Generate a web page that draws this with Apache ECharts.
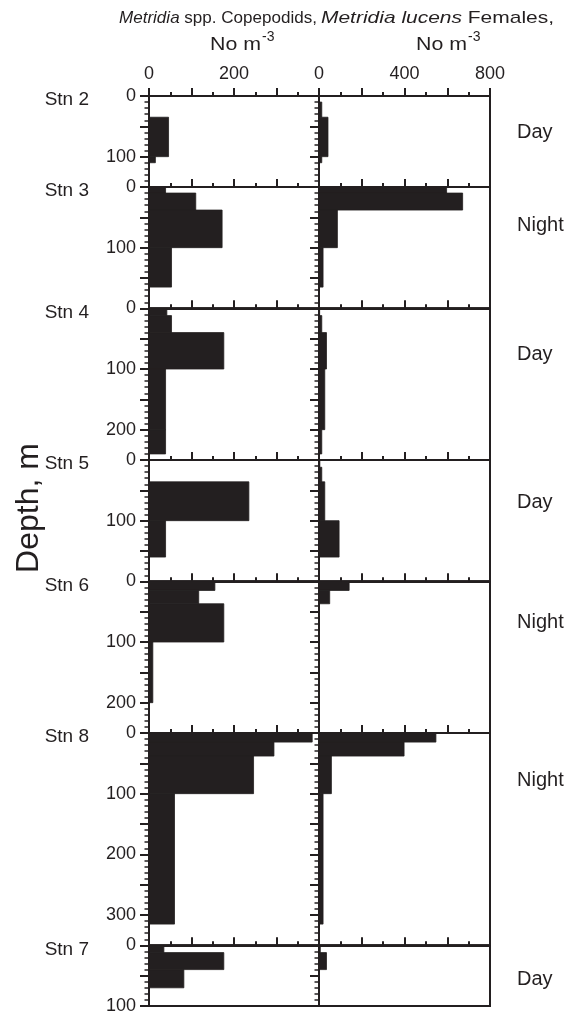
<!DOCTYPE html>
<html>
<head>
<meta charset="utf-8">
<script src="https://cdn.jsdelivr.net/npm/echarts@6/dist/echarts.min.js"></script>
<style>
html,body{margin:0;padding:0;background:#fff;}
#c{width:576px;height:1015px;}
</style>
</head>
<body>
<div id="c"></div>
<script>
// ---------------- DATA ----------------
const stations = ['Stn 2', 'Stn 3', 'Stn 4', 'Stn 5', 'Stn 6', 'Stn 8', 'Stn 7'];
const periods  = ['Day', 'Night', 'Day', 'Day', 'Night', 'Night', 'Day'];
const depthRange = [150, 200, 250, 200, 250, 350, 100];

// layer boundaries (m) and values (No m-3) per station
const layersStn2 = [0, 10, 35, 100, 110];
const copepodidsStn2 = [0, 0, 46, 15];
const femalesStn2 = [0, 13, 42, 13];

const layersStn3 = [0, 10, 38, 100, 165];
const copepodidsStn3 = [39, 110, 172, 53];
const femalesStn3 = [597, 672, 86, 19];

const layersStn4 = [0, 12, 40, 100, 200, 240];
const copepodidsStn4 = [42, 53, 176, 39, 39];
const femalesStn4 = [3, 13, 35, 27, 13];

const layersStn5 = [0, 12, 36, 100, 160];
const copepodidsStn5 = [0, 0, 235, 39];
const femalesStn5 = [4, 13, 27, 94];

const layersStn6 = [0, 15, 37, 100, 200];
const copepodidsStn6 = [155, 117, 176, 9];
const femalesStn6 = [141, 50, 2, 2];

const layersStn8 = [0, 15, 38, 100, 315];
const copepodidsStn8 = [384, 294, 246, 60];
const femalesStn8 = [547, 398, 58, 19];

const layersStn7 = [0, 12, 40, 70];
const copepodidsStn7 = [35, 176, 82];
const femalesStn7 = [6, 35, 0];

const layers = [layersStn2, layersStn3, layersStn4, layersStn5, layersStn6, layersStn8, layersStn7];
const copepodids = [copepodidsStn2, copepodidsStn3, copepodidsStn4, copepodidsStn5, copepodidsStn6, copepodidsStn8, copepodidsStn7];
const females = [femalesStn2, femalesStn3, femalesStn4, femalesStn5, femalesStn6, femalesStn8, femalesStn7];

const copepodidsTickLabels = [0, 200];
const femalesTickLabels = [0, 400, 800];
const depthTickLabels = [0, 100, 200, 300];

// ---------------- LAYOUT ----------------
const COLOR = '#231f20';
const FONT = '"Liberation Sans", Arial, Helvetica, sans-serif';
const plotTop = 96, plotBottom = 1006;
const colLeft = [149, 319], colWidth = [170, 171];
const periodLabelY = [132, 225, 354, 502, 622, 780, 979];

const totalDepth = depthRange.reduce((a, b) => a + b, 0);
const k = (plotBottom - plotTop) / totalDepth;

const measureCtx = document.createElement('canvas').getContext('2d');
function textWidth(str, size, style) {
  measureCtx.font = (style || 'normal') + ' ' + size + 'px ' + FONT;
  return measureCtx.measureText(str).width;
}

function renderItem(params, api) {
  const top = api.value(0), bot = api.value(1), v = api.value(2);
  const p0 = api.coord([0, top]);
  const p1 = api.coord([v, bot]);
  return {
    type: 'rect',
    shape: { x: p0[0], y: p0[1], width: p1[0] - p0[0], height: p1[1] - p0[1] },
    style: { fill: COLOR, stroke: v > 0 ? COLOR : null, lineWidth: 0.8 }
  };
}

const grids = [], xAxes = [], yAxes = [], series = [], graphics = [];
let y0 = plotTop;
stations.forEach((stn, i) => {
  const h = depthRange[i] * k;
  const isFirst = i === 0, isLast = i === stations.length - 1;
  [0, 1].forEach(col => {
    const gi = grids.length;
    grids.push({
      left: colLeft[col], width: colWidth[col], top: y0, height: h,
      show: true, borderColor: COLOR, borderWidth: 2, backgroundColor: 'transparent'
    });
    const xmax = col === 0 ? 400 : 800;
    const xint = col === 0 ? 100 : 200;
    const xLabels = col === 0 ? copepodidsTickLabels : femalesTickLabels;
    xAxes.push({
      type: 'value', gridIndex: gi, position: 'top', min: 0, max: xmax, interval: xint,
      axisLine: { show: true, onZero: false, lineStyle: { color: COLOR, width: 2 } },
      axisTick: { show: true, length: 8, lineStyle: { color: COLOR, width: 2 } },
      minorTick: { show: true, splitNumber: 2, length: 4, lineStyle: { color: COLOR, width: 2 } },
      splitLine: { show: false }, minorSplitLine: { show: false },
      axisLabel: {
        show: isFirst, margin: 13, color: COLOR, fontSize: 18, fontFamily: FONT,
        showMinLabel: true, showMaxLabel: true,
        formatter: v => xLabels.indexOf(v) >= 0 ? String(v) : ''
      }
    });
    const dmax = depthRange[i];
    yAxes.push({
      type: 'value', gridIndex: gi, inverse: true, min: 0, max: dmax, interval: 50,
      axisLine: { show: true, onZero: false, lineStyle: { color: COLOR, width: 2 } },
      axisTick: { show: true, length: 9, lineStyle: { color: COLOR, width: 2 } },
      minorTick: { show: true, splitNumber: 5, length: 4.5, lineStyle: { color: COLOR, width: 1.5 } },
      splitLine: { show: false }, minorSplitLine: { show: false },
      axisLabel: {
        show: col === 0, margin: 13, color: COLOR, fontSize: 18, fontFamily: FONT,
        showMinLabel: true, showMaxLabel: true,
        formatter: v => (depthTickLabels.indexOf(v) >= 0 && (v !== dmax || isLast)) ? String(v) : ''
      }
    });
    const vals = col === 0 ? copepodids[i] : females[i];
    const data = vals.map((v, j) => [layers[i][j], layers[i][j + 1], v]);
    series.push({
      type: 'custom', xAxisIndex: gi, yAxisIndex: gi, renderItem, data,
      encode: { x: 2, y: [0, 1] }, silent: true, clip: true, z: 1
    });
  });
  graphics.push({
    type: 'text', x: 89, y: y0 + 4,
    style: { text: stn, textAlign: 'right', textVerticalAlign: 'middle', fill: COLOR, fontSize: 19, fontFamily: FONT }
  });
  graphics.push({
    type: 'text', x: 517, y: periodLabelY[i],
    style: { text: periods[i], textAlign: 'left', textVerticalAlign: 'middle', fill: COLOR, fontSize: 20, fontFamily: FONT }
  });
  y0 += h;
});

// headers (stretched horizontally to the reference's extents)
function header(italicPart, restPart, xStart, targetWidth) {
  const w = textWidth(italicPart, 17, 'italic') + textWidth(restPart, 17);
  graphics.push({
    type: 'text', x: xStart, y: 18, scaleX: targetWidth / w, scaleY: 1,
    style: { text: '{i|' + italicPart + '}' + restPart, textVerticalAlign: 'middle', fill: COLOR, fontSize: 17, fontFamily: FONT,
      rich: { i: { fontStyle: 'italic', fontSize: 17, fontFamily: FONT, fill: COLOR } } }
  });
}
header('Metridia', ' spp. Copepodids,', 119, 198);
header('Metridia lucens', ' Females,', 321, 233);

[[210, 51], [416, 51]].forEach(([xNo, wNo]) => {
  const w = textWidth('No m', 18);
  graphics.push({ type: 'text', x: xNo, y: 45, scaleX: wNo / w,
    style: { text: 'No m', textVerticalAlign: 'middle', fill: COLOR, fontSize: 18, fontFamily: FONT } });
  graphics.push({ type: 'text', x: xNo + wNo + 1, y: 37,
    style: { text: '-3', textVerticalAlign: 'middle', fill: COLOR, fontSize: 14, fontFamily: FONT } });
});
graphics.push({
  type: 'text', x: 29, y: 508, rotation: Math.PI / 2,
  style: { text: 'Depth, m', textAlign: 'center', textVerticalAlign: 'middle', fill: COLOR, fontSize: 32, fontFamily: FONT }
});

const chart = echarts.init(document.getElementById('c'));
chart.setOption({
  animation: false,
  backgroundColor: '#fff',
  grid: grids, xAxis: xAxes, yAxis: yAxes, series: series,
  graphic: graphics
});
</script>
</body>
</html>
